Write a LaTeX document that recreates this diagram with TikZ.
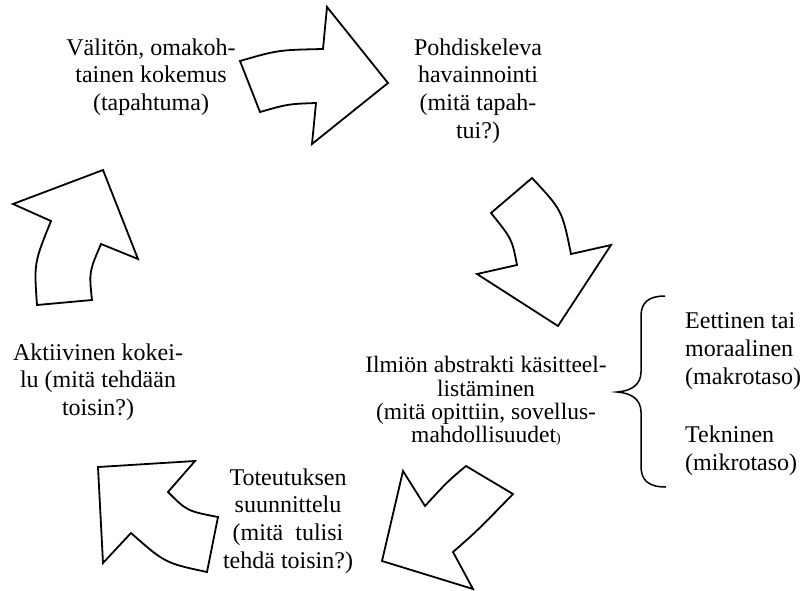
\documentclass[tikz,border=0pt]{standalone}
\usepackage{fontspec}
\setmainfont{Liberation Serif}
\begin{document}
\begin{tikzpicture}[x=1pt,y=-1pt,
  lbl/.style={inner sep=0pt,align=center,font=\fontsize{24}{27.6}\selectfont},
  lbll/.style={inner sep=0pt,align=left,anchor=west,font=\fontsize{24}{27.6}\selectfont},
  bigarrow/.style={draw=black,line width=1.8pt,fill=white,line join=miter},
  bracepath/.style={draw=black,line width=1.5pt}]
\useasboundingbox (0,0) rectangle (802,590);

% curved block arrows
\draw[bigarrow] (240,61) .. controls (278,50) .. (323,49) -- (327,7) -- (388,83) -- (312,144) -- (316,103)
  .. controls (288,104) .. (260,112) -- cycle;
\draw[bigarrow] (532,178) -- (491,213) .. controls (512,239) .. (517,265) -- (477,274) -- (558,326) -- (611,245) -- (571,254)
  .. controls (562,210) .. cycle;
\draw[bigarrow] (466,466) -- (513,494) .. controls (477,531) .. (453,552) -- (473,589) -- (382,561) -- (403,471) -- (425,506)
  .. controls (448,481) .. cycle;
\draw[bigarrow] (98,467) -- (195,461) -- (168,492) .. controls (187,511) .. (218,517) -- (207,572)
  .. controls (165,563) .. (131,533) -- (103,563) -- cycle;
\draw[bigarrow] (103,170) -- (13,204) -- (51,221) .. controls (34,263) .. (37,305) -- (92,300)
  .. controls (89,272) .. (101,244) -- (138,259) -- cycle;

% brace
\draw[bracepath] (665,296) .. controls (648,296) and (641,303) .. (641,316) -- (641,372)
  .. controls (641,384) and (632,391) .. (617,392)
  .. controls (632,393) and (641,400) .. (641,412) -- (641,466)
  .. controls (641,480) and (648,487) .. (666,487);

% labels
\node[lbl] (kokemus) at (151,77) {Välitön, omakoh-\\tainen kokemus\\(tapahtuma)};
\node[lbl] (havainnointi) at (478,91) {Pohdiskeleva\\havainnointi\\(mitä tapah-\\tui?)};
\node[lbl,font=\fontsize{23.5}{23.2}\selectfont] (kasitteellistaminen) at (486,401)
  {Ilmiön abstrakti käsitteel-\\listäminen\\(mitä opittiin, sovellus-\\mahdollisuudet{\fontsize{14}{14}\selectfont )}};
\node[lbll] (eettinen) at (685,351) {Eettinen tai\\moraalinen\\(makrotaso)};
\node[lbll] (tekninen) at (685,451) {Tekninen\\(mikrotaso)};
\node[lbl] (kokeilu) at (98,382) {Aktiivinen kokei-\\lu (mitä tehdään\\toisin?)};
\node[lbl] (suunnittelu) at (288,521) {Toteutuksen\\suunnittelu\\(mitä\ \ tulisi\\tehdä toisin?)};
\end{tikzpicture}
\end{document}
